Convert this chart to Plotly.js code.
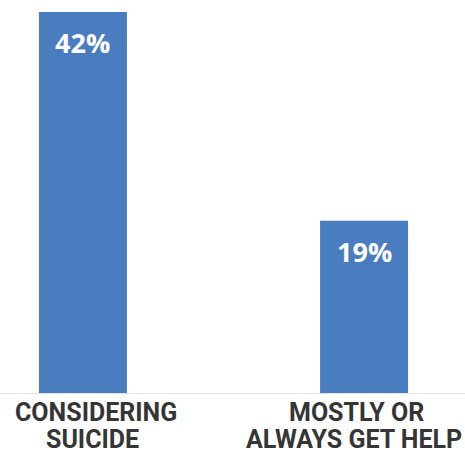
<!DOCTYPE html>
<html>
<head>
<meta charset="utf-8">
<script src="https://cdn.plot.ly/plotly-3.0.1.min.js"></script>
<style>html,body{margin:0;padding:0;background:#fff;}#chart{width:465px;height:453px;}</style>
</head>
<body>
<div id="chart"></div>
<script>
const categories = ["CONSIDERING SUICIDE", "MOSTLY OR ALWAYS GET HELP"];
const values = [42, 19];
const labelTop = ["CONSIDERING", "MOSTLY OR"];
const labelBottom = ["SUICIDE", "ALWAYS GET HELP"];

const labelFont = {family: "Roboto, sans-serif", size: 25, color: "#353535", weight: 700};
const topShift = [13, -8];
const botShift = [10, -10];

const annotations = [];
categories.forEach((c, i) => {
  annotations.push({x: c, y: values[i], xref: "x", yref: "y", text: values[i] + "%", showarrow: false,
    yanchor: "middle", yshift: -31, font: {family: "Open Sans, sans-serif", size: 27, color: "#ffffff", weight: 700}});
  annotations.push({x: c, y: 0, xref: "x", yref: "y", text: labelTop[i], showarrow: false,
    yanchor: "middle", yshift: -19, xshift: topShift[i], font: labelFont});
  annotations.push({x: c, y: 0, xref: "x", yref: "y", text: labelBottom[i], showarrow: false,
    yanchor: "middle", yshift: -46, xshift: botShift[i], font: labelFont});
});

const trace = {type: "bar", x: categories, y: values, width: 0.313,
  marker: {color: "#4a7cc0"}, hoverinfo: "none"};

const layout = {
  width: 465, height: 453,
  margin: {l: 0, r: 0, t: 0, b: 60},
  paper_bgcolor: "#ffffff", plot_bgcolor: "#ffffff",
  showlegend: false,
  xaxis: {type: "category", range: [-0.295, 1.359], showticklabels: false, ticks: "",
    showgrid: false, zeroline: false, showline: true, linecolor: "#e2e2e2", linewidth: 1, fixedrange: true},
  yaxis: {range: [0, 43.32], visible: false, showgrid: false, zeroline: false, fixedrange: true},
  annotations: annotations
};

Plotly.newPlot("chart", [trace], layout, {displayModeBar: false, staticPlot: true});
</script>
</body>
</html>
